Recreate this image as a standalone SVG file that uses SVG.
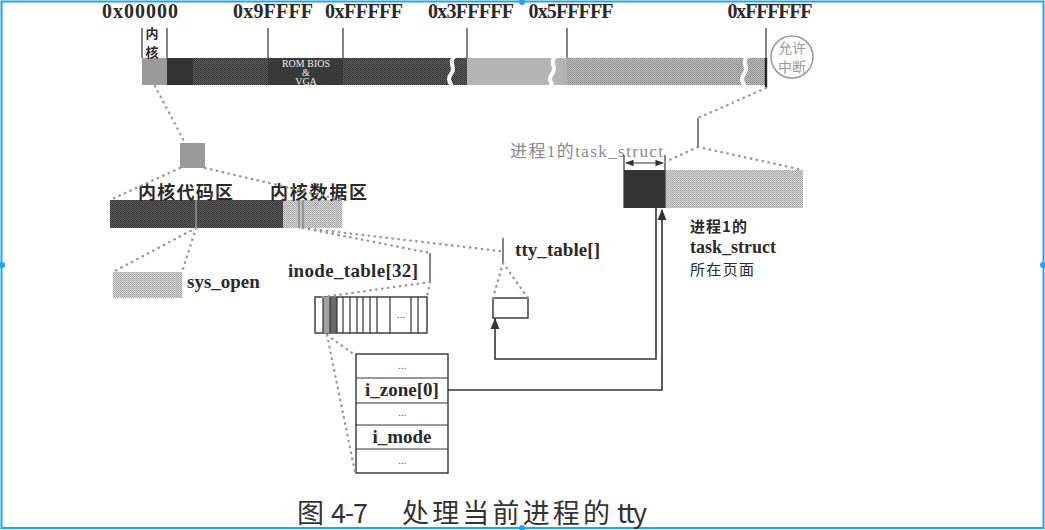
<svg xmlns="http://www.w3.org/2000/svg" width="1045" height="530" viewBox="0 0 1045 530">
<style>
.lbl{font-family:"Liberation Serif","Noto Sans CJK SC",serif;font-weight:bold;fill:#2a2a2a}
.cjk{font-family:"Noto Sans CJK SC","Liberation Serif",sans-serif;font-weight:bold;fill:#2a2a2a}
.tick{stroke:#333;stroke-width:1.2;fill:none}
.dot{stroke:#9a9a9a;stroke-width:2.4;stroke-dasharray:0.5 5.5;stroke-linecap:round;fill:none}
.wire{stroke:#333;stroke-width:1.6;fill:none}
.cell{fill:#fff;stroke:#333;stroke-width:1.4}
.brk{stroke:#fff;stroke-width:4;fill:none}
</style>
<defs>
<pattern id="hd" width="2" height="2" patternUnits="userSpaceOnUse"><rect width="2" height="2" fill="#606060"/><rect width="1" height="1" fill="#2e2e2e"/><rect x="1" y="1" width="1" height="1" fill="#3a3a3a"/></pattern>
<pattern id="hm" width="2" height="2" patternUnits="userSpaceOnUse"><rect width="2" height="2" fill="#c0c0c0"/><rect width="1" height="1" fill="#888"/><rect x="1" y="1" width="1" height="1" fill="#959595"/></pattern>
<pattern id="hl" width="2" height="2" patternUnits="userSpaceOnUse"><rect width="2" height="2" fill="#d8d8d8"/><rect width="1" height="1" fill="#a2a2a2"/><rect x="1" y="1" width="1" height="1" fill="#ababab"/></pattern>
<marker id="ar" viewBox="0 0 10 10" refX="9" refY="5" markerWidth="7" markerHeight="7" orient="auto-start-reverse"><path d="M0,1L10,5L0,9z" fill="#333"/></marker>
</defs>
<rect x="0" y="0" width="1045" height="530" fill="#fff"/>
<rect x="1.5" y="1.5" width="1042" height="526.5" fill="none" stroke="#1aa7f0" stroke-width="2"/>
<circle cx="2" cy="265" r="3" fill="#1aa7f0"/><circle cx="1043" cy="265" r="3" fill="#1aa7f0"/>
<circle cx="522" cy="2" r="3" fill="#1aa7f0"/><circle cx="522" cy="528" r="3" fill="#1aa7f0"/>

<g id="memory-map">
<rect x="142" y="58" width="25" height="27" fill="#9a9a9a"/>
<rect x="167" y="58" width="26" height="27" fill="#333"/>
<rect x="193" y="58" width="75" height="27" fill="url(#hd)"/>
<rect x="268" y="58" width="75" height="27" fill="#3a3a3a"/>
<rect x="343" y="58" width="124" height="27" fill="url(#hd)"/>
<rect x="467" y="58" width="100" height="27" fill="#b4b4b4"/>
<rect x="567" y="58" width="199" height="27" fill="url(#hm)"/>
<path class="brk" d="M455,56C447,62 457,68 451,74C446,80 452,84 452,88"/>
<path class="brk" d="M556,56C548,62 558,68 552,74C547,80 553,84 553,88"/>
<path class="brk" d="M748,56C740,62 750,68 744,74C739,80 745,84 745,88"/>
<g font-family="Liberation Serif,serif" font-size="10" fill="#eee" text-anchor="middle">
<text x="306" y="67">ROM BIOS</text><text x="306" y="76">&amp;</text><text x="306" y="85">VGA</text>
</g>
<path class="tick" d="M142,28V58M167,28V58M268,28V58M343,28V58M467,28V58M567,28V58M766,28V58"/>
<path d="M766,58V88" stroke="#222" stroke-width="2.4"/>
<g class="lbl" font-size="20" text-anchor="middle">
<text x="140" y="18" textLength="76">0x00000</text>
<text x="273" y="18" textLength="80">0x9FFFF</text>
<text x="364" y="18" textLength="78">0xFFFFF</text>
<text x="471" y="18" textLength="86">0x3FFFFF</text>
<text x="571" y="18" textLength="85">0x5FFFFF</text>
<text x="770" y="18" textLength="85">0xFFFFFF</text>
</g>
<text class="cjk" x="152" y="38" font-size="13" text-anchor="middle">内</text>
<text class="cjk" x="152" y="57" font-size="13" text-anchor="middle">核</text>
</g>

<g id="interrupt">
<circle cx="792" cy="57" r="21" fill="#fff" stroke="#999" stroke-width="1.5"/>
<g font-family="Noto Sans CJK SC,sans-serif" font-size="14" fill="#999" text-anchor="middle">
<text x="792" y="53">允许</text><text x="792" y="72">中断</text>
</g>
</g>

<g id="kernel-block"><rect x="180" y="143" width="25" height="25" fill="#9a9a9a"/></g>

<g id="kernel-area">
<rect x="110" y="200" width="173" height="28" fill="url(#hd)"/>
<rect x="283" y="200" width="59" height="28" fill="url(#hl)"/>
<path d="M196,200V228" stroke="#bbb" stroke-width="1"/>
<path d="M299,200V228M303,200V228" stroke="#666" stroke-width="1"/>
<text class="cjk" x="138" y="199" font-size="18" textLength="95">内核代码区</text>
<text class="cjk" x="270" y="199" font-size="18" textLength="97">内核数据区</text>
</g>

<g id="sys-open">
<rect x="113" y="272" width="69" height="26" fill="url(#hl)"/>
<text class="lbl" x="187" y="288" font-size="19">sys_open</text>
</g>

<g id="inode-table">
<text class="lbl" x="288" y="277" font-size="19" textLength="130">inode_table[32]</text>
<path class="tick" d="M430,253V282"/>
<rect x="315" y="297" width="112" height="36" class="cell"/>
<rect x="323" y="297" width="7" height="36" fill="#a0a0a0"/>
<rect x="330" y="297" width="7" height="36" fill="#6a6a6a"/>
<path class="tick" d="M323,297V333M330,297V333M337,297V333M343,297V333M350,297V333M357,297V333M363,297V333M370,297V333M377,297V333M390,297V333M411,297V333M418,297V333"/>
<text x="401" y="318" font-family="Liberation Serif,serif" font-size="11" fill="#555" text-anchor="middle">...</text>
</g>

<g id="inode">
<rect x="356" y="354" width="92" height="119" class="cell"/>
<path class="tick" d="M356,378H448M356,403H448M356,425H448M356,449H448"/>
<g font-family="Liberation Serif,serif" font-size="11" fill="#555" text-anchor="middle">
<text x="402" y="369">...</text><text x="402" y="416">...</text><text x="402" y="464">...</text>
</g>
<text class="lbl" x="402" y="396" font-size="19" text-anchor="middle">i_zone[0]</text>
<text class="lbl" x="402" y="443" font-size="19" text-anchor="middle">i_mode</text>
</g>

<g id="tty-table">
<text class="lbl" x="515" y="256" font-size="19" textLength="85">tty_table[]</text>
<path class="tick" d="M503,238V263"/>
<rect x="493" y="298" width="35" height="20" class="cell"/>
</g>

<g id="task-struct">
<text x="510" y="157" font-family="Liberation Serif,Noto Sans CJK SC,serif" font-size="17" fill="#8a8a8a" textLength="153">进程1的task_struct</text>
<rect x="624" y="170" width="41" height="38" fill="#333"/>
<rect x="665" y="170" width="138" height="38" fill="url(#hl)"/>
<path class="tick" d="M624,155V208M665,155V208"/>
<path d="M626,163H663" stroke="#333" stroke-width="1.2" marker-start="url(#ar)" marker-end="url(#ar)"/>
<path class="tick" d="M698,118V147"/>
<text class="cjk" x="690" y="232" font-size="15" textLength="57">进程1的</text>
<text class="lbl" x="690" y="253" font-size="18">task_struct</text>
<text x="690" y="275" font-family="Noto Sans CJK SC,sans-serif" font-size="15" fill="#2a2a2a" textLength="64">所在页面</text>
</g>

<g id="connectors">
<path class="dot" d="M155,86L185,143"/>
<path class="dot" d="M180,168L110,200M205,168L342,200"/>
<path class="dot" d="M196,228L113,272M196,228L182,272"/>
<path class="dot" d="M303,228L500,251M303,228L430,253"/>
<path class="dot" d="M430,282L323,297M430,282L427,297"/>
<path class="dot" d="M503,263L493,298M503,263L528,298"/>
<path class="dot" d="M327,335L355,355M327,335L355,472"/>
<path class="dot" d="M766,88L698,118"/>
<path class="dot" d="M698,147L665,162M698,147L803,170"/>
<path class="wire" d="M448,390H662V210" marker-end="url(#ar)"/>
<path class="wire" d="M656,208V359H495V319" marker-end="url(#ar)"/>
</g>

<g id="caption" font-family="Noto Sans CJK SC,sans-serif" font-size="27" fill="#333">
<text x="297" y="523">图</text>
<text x="331" y="523" textLength="37">4-7</text>
<text x="402" y="523" textLength="208">处理当前进程的</text>
<text x="617" y="523" textLength="30">tty</text>
</g>
</svg>
